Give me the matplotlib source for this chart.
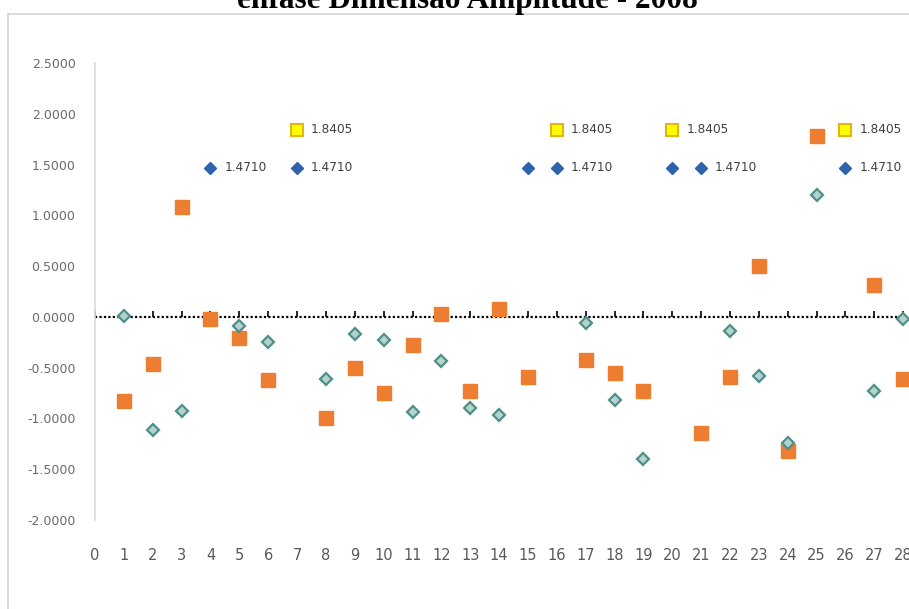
import numpy as np
import matplotlib
matplotlib.use("Agg")
import matplotlib.pyplot as plt
from matplotlib.patches import Rectangle

nan = np.nan

title = "enfase Dimensão Amplitude - 2008"

x = list(range(29))

# orange squares
serie_a = [nan, -0.83, -0.46, 1.08, -0.02, -0.21, -0.62, nan, -1.00, -0.50,
           -0.75, -0.28, 0.03, -0.73, 0.08, -0.59, nan, -0.42, -0.55, -0.73,
           nan, -1.14, -0.59, 0.50, -1.32, 1.78, nan, 0.31, -0.61]

# teal diamonds
serie_b = [nan, 0.01, -1.11, -0.93, nan, -0.09, -0.25, nan, -0.61, -0.17,
           -0.23, -0.94, -0.43, -0.90, -0.97, nan, nan, -0.06, -0.82, -1.40,
           nan, nan, -0.14, -0.58, -1.24, 1.20, nan, -0.73, -0.02]

# reference markers with data labels
ref_high_x = [7, 16, 20, 26]
ref_high_val = 1.8405
ref_low_x = [4, 7, 15, 16, 20, 21, 26]
ref_low_val = 1.4710
ref_low_labeled = [4, 7, 16, 21, 26]

zero_line = [0.0] * len(x)

yticks = [-2.0, -1.5, -1.0, -0.5, 0.0, 0.5, 1.0, 1.5, 2.0, 2.5]

#-------------------------------------------------------------
W, H = 909, 609
fig = plt.figure(figsize=(W / 100, H / 100), dpi=100)
fig.patch.set_facecolor("white")

# chart area border (cut off at right and bottom)
fig.patches.append(Rectangle((8 / W, -0.1), 1.2, 1 - 14 / H + 0.1,
                             transform=fig.transFigure, fill=False,
                             edgecolor="#d4d4d4", linewidth=1.2))

fig.text(467 / W, 1 - 8 / H, title, ha="center", va="baseline",
         fontsize=22.5, fontweight="bold", family="Liberation Serif")

ax = fig.add_axes([95 / W, 1 - 520 / H, (W - 95) / W, (520 - 63) / H])
ax.set_xlim(0, 28.2)
ax.set_ylim(-2.0, 2.5)

ax.plot(x, zero_line, linestyle=(0, (1, 1)), color="black", linewidth=1.6,
        marker=2, markersize=4, markeredgewidth=1.2, zorder=2)

ax.plot(x, serie_b, linestyle="none", marker="D", markersize=6.5,
        markerfacecolor="#b3d3ce", markeredgecolor="#4f8f88",
        markeredgewidth=1.6, zorder=4)
ax.plot(x, serie_a, linestyle="none", marker="s", markersize=10,
        markerfacecolor="#ed7d31", markeredgecolor="#ed7d31", zorder=3)

ax.plot(ref_high_x, [ref_high_val] * len(ref_high_x), linestyle="none",
        marker="s", markersize=9, markerfacecolor="#ffff00",
        markeredgecolor="#e3b512", markeredgewidth=1.5, zorder=5)
ax.plot(ref_low_x, [ref_low_val] * len(ref_low_x), linestyle="none",
        marker="D", markersize=6, markerfacecolor="#2e62ad",
        markeredgecolor="#2e62ad", zorder=5)

for xi in ref_high_x:
    ax.annotate("%.4f" % ref_high_val, (xi, ref_high_val), xytext=(10, 0),
                textcoords="offset points", va="center", ha="left",
                fontsize=8.7, color="#404040")
for xi in ref_low_labeled:
    ax.annotate("%.4f" % ref_low_val, (xi, ref_low_val), xytext=(10, 0),
                textcoords="offset points", va="center", ha="left",
                fontsize=8.7, color="#404040")

ax.set_yticks(yticks)
ax.set_yticklabels(["%.4f" % v for v in yticks])
ax.set_xticks(x)
ax.set_xticklabels([str(v) for v in x])

for s in ["top", "right", "bottom"]:
    ax.spines[s].set_visible(False)
ax.spines["left"].set_color("#d9d9d9")
ax.spines["left"].set_linewidth(1.2)

ax.tick_params(axis="y", length=0, pad=14, labelsize=9, labelcolor="#6b6b6b")
ax.tick_params(axis="x", length=0, pad=20, labelsize=10.5, labelcolor="#595959")
for lab in ax.get_xticklabels():
    lab.set_family("Liberation Sans Narrow")

fig.savefig("out.png", dpi=100, facecolor="white")
